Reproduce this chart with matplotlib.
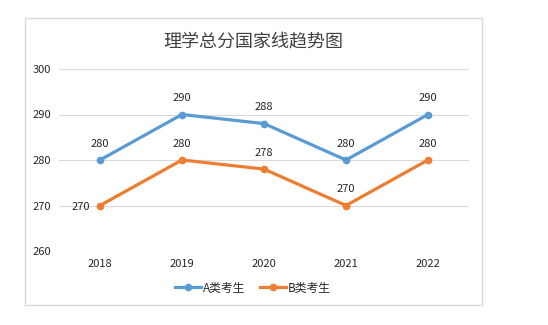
import matplotlib.pyplot as plt
from matplotlib.patches import Rectangle

plt.rcParams['font.family'] = ['Noto Sans CJK SC', 'DejaVu Sans']

years = ['2018', '2019', '2020', '2021', '2022']
score_a = [280, 290, 288, 280, 290]
score_b = [270, 280, 278, 270, 280]

blue = '#5B9BD5'
orange = '#ED7D31'

fig = plt.figure(figsize=(5.48, 3.25), dpi=100)
fig.patch.set_facecolor('white')

# outer chart frame
fig.patches.append(Rectangle((25 / 548, 1 - 305 / 325), 457 / 548, 287 / 325,
                             transform=fig.transFigure, fill=False,
                             edgecolor='#D9D9D9', linewidth=1))

ax = fig.add_axes([59 / 548, 1 - 251 / 325, 410 / 548, 182 / 325])
x = list(range(len(years)))

ax.plot(x, score_a, color=blue, linewidth=2.3, marker='o', markersize=4.5,
        label='A类考生', zorder=3)
ax.plot(x, score_b, color=orange, linewidth=2.3, marker='o', markersize=4.5,
        label='B类考生', zorder=3)

for i, v in enumerate(score_a):
    ax.annotate(str(v), (i, v), xytext=(0, 8), textcoords='offset points',
                ha='center', va='bottom', fontsize=8, color='#262626')
for i, v in enumerate(score_b):
    if i == 0:
        ax.annotate(str(v), (i, v), xytext=(-7, -1), textcoords='offset points',
                    ha='right', va='center', fontsize=8, color='#262626')
    else:
        ax.annotate(str(v), (i, v), xytext=(0, 8), textcoords='offset points',
                    ha='center', va='bottom', fontsize=8, color='#262626')

ax.set_xlim(-0.5, len(years) - 0.5)
ax.set_ylim(260, 300)
ax.set_yticks([260, 270, 280, 290, 300])
ax.set_xticks(x)
ax.set_xticklabels(years)
ax.tick_params(axis='both', length=0, labelsize=8, labelcolor='#262626')
ax.tick_params(axis='y', pad=5.5)
ax.tick_params(axis='x', pad=6)
ax.grid(axis='y', color='#D9D9D9', linewidth=0.8)
ax.set_axisbelow(True)
for s in ax.spines.values():
    s.set_visible(False)

fig.text(253 / 548, 1 - 42 / 325, '理学总分国家线趋势图', ha='center', va='center',
         fontsize=13, color='#404040')

fig.legend(loc='center', bbox_to_anchor=(253 / 548, 1 - 288 / 325), ncol=2,
           frameon=False, fontsize=8.5, handlelength=2.2, handletextpad=0.2,
           columnspacing=1.2, labelcolor='#262626')

fig.savefig('out.png', dpi=100)
